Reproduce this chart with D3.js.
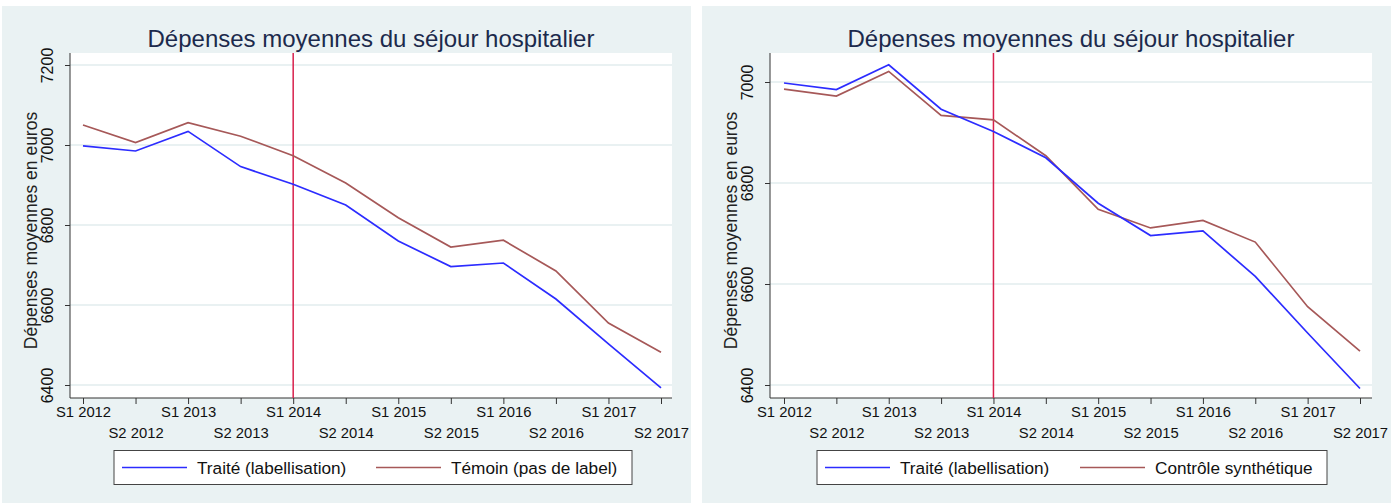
<!DOCTYPE html>
<html>
<head>
<meta charset="utf-8">
<script src="https://cdn.jsdelivr.net/npm/d3@7"></script>
<style>
  body { margin: 0; background: #fff; }
  svg { display: block; font-family: "Liberation Sans", Arial, sans-serif; }
</style>
</head>
<body>
<div id="canvas"></div>
<script>
"use strict"

// periods on the x axis
let periods = ["S1 2012", "S2 2012", "S1 2013", "S2 2013", "S1 2014", "S2 2014",
               "S1 2015", "S2 2015", "S1 2016", "S2 2016", "S1 2017", "S2 2017"];

// treated hospitals (same in both panels)
let traite = [6998, 6985, 7034, 6946, 6902, 6850, 6760, 6696, 6705, 6615, 6503, 6393];
// control group, left panel
let temoin = [7050, 7006, 7056, 7022, 6973, 6905, 6818, 6745, 6762, 6685, 6555, 6482];
// synthetic control, right panel
let synthetique = [6986, 6972, 7021, 6934, 6925, 6854, 6748, 6711, 6726, 6683, 6555, 6467];

let leftTicks = [6400, 6600, 6800, 7000, 7200];
let rightTicks = [6400, 6600, 6800, 7000];
let treatmentPeriod = "S1 2014";

let drawing = d3.select("#canvas")
    .append("svg")
    .attr("width", 1400)
    .attr("height", 503);

/* one panel: the origin is the left edge of the grey background */
function drawPanel(px, opts) {
    let g = drawing.append("g");

    g.append("rect")
        .attr("x", px).attr("y", 6)
        .attr("width", 689).attr("height", 497)
        .attr("fill", "#eaf2f3");

    let plotLeft = px + 68, plotRight = px + opts.plotW + 68;
    let plotTop = 53, plotBottom = 398;

    g.append("rect")
        .attr("x", plotLeft).attr("y", plotTop)
        .attr("width", plotRight - plotLeft).attr("height", plotBottom - plotTop)
        .attr("fill", "white");

    let x = d3.scalePoint()
        .domain(periods)
        .range([px + opts.x0, px + opts.x1]);

    let y = d3.scaleLinear()
        .domain(opts.yDomain)
        .range(opts.yRange);

    // gridlines
    g.selectAll(".grid")
        .data(opts.ticks)
        .enter().append("line")
        .attr("x1", plotLeft).attr("x2", plotRight)
        .attr("y1", d => y(d)).attr("y2", d => y(d))
        .attr("stroke", "#e2ecee")
        .attr("stroke-width", 1.3);

    // y axis
    let yAxis = g.append("g")
        .attr("transform", "translate(" + plotLeft + ",0)")
        .call(d3.axisLeft(y).tickValues(opts.ticks).tickSize(5).tickSizeOuter(0).tickFormat(d3.format("d")));
    yAxis.select(".domain").attr("d", "M0," + plotTop + "V" + plotBottom).attr("stroke", "#333");
    yAxis.selectAll(".tick line").attr("stroke", "#333");
    yAxis.selectAll(".tick text")
        .attr("transform", "rotate(-90)")
        .attr("x", 0).attr("y", -17.5)
        .attr("dy", 0)
        .attr("text-anchor", "middle")
        .attr("font-size", 16)
        .attr("fill", "#111");

    // x axis
    let xAxis = g.append("g")
        .attr("transform", "translate(0," + plotBottom + ")")
        .call(d3.axisBottom(x).tickSize(6).tickSizeOuter(0));
    xAxis.select(".domain").attr("d", "M" + plotLeft + ",0H" + plotRight).attr("stroke", "#333");
    xAxis.selectAll(".tick line").attr("stroke", "#333");
    xAxis.selectAll(".tick text")
        .attr("y", (d, i) => i % 2 === 0 ? 18.5 : 39.5)
        .attr("dy", 0)
        .attr("font-size", 14.8)
        .attr("fill", "#111");

    // y axis title
    g.append("text")
        .attr("transform", "translate(" + (px + 34.5) + "," + ((plotTop + plotBottom) / 2 + 5) + ") rotate(-90)")
        .attr("text-anchor", "middle")
        .attr("font-size", 17.5)
        .attr("fill", "#222")
        .text("Dépenses moyennes en euros");

    // title
    g.append("text")
        .attr("x", (plotLeft + plotRight) / 2)
        .attr("y", 46.5)
        .attr("text-anchor", "middle")
        .attr("font-size", 24)
        .attr("fill", "#1c2a4c")
        .text("Dépenses moyennes du séjour hospitalier");

    // treatment line
    g.append("line")
        .attr("x1", x(treatmentPeriod)).attr("x2", x(treatmentPeriod))
        .attr("y1", plotTop).attr("y2", plotBottom)
        .attr("stroke", "#d8204c")
        .attr("stroke-width", 1.5);

    let line = d3.line()
        .x((d, i) => x(periods[i]))
        .y(d => y(d));

    g.append("path")
        .datum(opts.control)
        .attr("d", line)
        .attr("fill", "none")
        .attr("stroke", "#a65858")
        .attr("stroke-width", 1.7);

    g.append("path")
        .datum(traite)
        .attr("d", line)
        .attr("fill", "none")
        .attr("stroke", "#2c2cff")
        .attr("stroke-width", 1.7);

    // legend
    let lg = g.append("g");
    lg.append("rect")
        .attr("x", px + opts.legX).attr("y", 450.5)
        .attr("width", opts.legW).attr("height", 34)
        .attr("fill", "white")
        .attr("stroke", "#444");
    let items = [
        {label: "Traité (labellisation)", color: "#2c2cff", x: opts.legX + 8},
        {label: opts.controlLabel, color: "#a65858", x: opts.legX + opts.item2}
    ];
    items.forEach(it => {
        lg.append("line")
            .attr("x1", px + it.x).attr("x2", px + it.x + 65)
            .attr("y1", 467.5).attr("y2", 467.5)
            .attr("stroke", it.color)
            .attr("stroke-width", 1.7);
        lg.append("text")
            .attr("x", px + it.x + 75)
            .attr("y", 473.5)
            .attr("font-size", 17.2)
            .attr("fill", "#111")
            .text(it.label);
    });
}

drawPanel(2, {
    plotW: 602, x0: 81, x1: 659,
    yDomain: [6400, 7200], yRange: [385, 65], ticks: leftTicks,
    control: temoin, controlLabel: "Témoin (pas de label)",
    legX: 112, legW: 518, item2: 262
});

drawPanel(702, {
    plotW: 602, x0: 82, x1: 658,
    yDomain: [6400, 7000], yRange: [385, 82], ticks: rightTicks,
    control: synthetique, controlLabel: "Contrôle synthétique",
    legX: 115, legW: 510, item2: 263
});
</script>
</body>
</html>
